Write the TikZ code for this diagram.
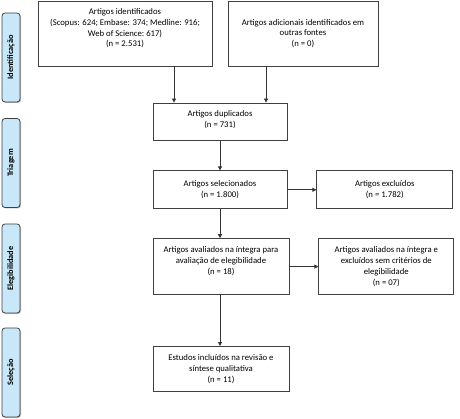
\documentclass[tikz,border=0pt]{standalone}
\usepackage{fontspec}
\setmainfont{Carlito}
\usepackage{xcolor}
\usetikzlibrary{arrows.meta,positioning,shadows}

\definecolor{faseazul}{RGB}{200,232,250}
\definecolor{borda}{RGB}{64,64,64}

\begin{document}
\begin{tikzpicture}[
    x=1pt, y=1pt,
    >={Triangle[length=4pt,width=4pt]},
    font=\fontsize{8.7}{10.8}\selectfont,
    caixa/.style={draw=borda, line width=0.8pt, fill=white, align=center,
                  inner sep=2pt, minimum width=#1},
    caixa/.default=134pt,
    fase/.style={draw=borda, line width=0.8pt, rounded corners=3pt, fill=faseazul,
                 minimum width=89pt, minimum height=18pt, rotate=90,
                 font=\fontsize{8.3}{9}\selectfont\bfseries, text=black,
                 drop shadow={shadow xshift=1pt, shadow yshift=-1pt, fill=black!45, opacity=0.6}},
    seta/.style={->, draw=black!80, line width=0.8pt},
  ]
    \useasboundingbox (0,0) rectangle (460,-419);

    % --- fases (lado esquerdo) ---
    \node[fase] (fid)  at (11,-57.5)  {Identificação};
    \node[fase] (ftr)  at (11,-163)   {Triagem};
    \node[fase] (fel)  at (11,-268.5) {Elegibilidade};
    \node[fase] (fsel) at (11,-372.5) {Seleção};

    % --- identificacao ---
    \node[caixa=174pt, minimum height=65pt] (ident) at (125,-33.5)
      {Artigos identificados\\
       (Scopus: 624; Embase: 374; Medline: 916;\\
       Web of Science:\ 617)\\
       (n = 2.531)\\[1pt]};
    \node[caixa=150pt, minimum height=65pt] (outras) at (303,-33.5)
      {Artigos adicionais identificados em\\
       outras fontes\\
       (n = 0)};

    % --- triagem ---
    \node[caixa, minimum height=37pt] (dup) at (220,-121.5)
      {Artigos duplicados\\(n = 731)\\[-6pt]};
    \node[caixa, minimum height=38pt, below=30pt of dup] (sel)
      {Artigos selecionados\\(n = 1.800)};
    \node[caixa=136pt, minimum height=38pt, right=29pt of sel] (excl)
      {Artigos excluídos\\(n = 1.782)};

    % --- elegibilidade ---
    \node[caixa=136pt, minimum height=56pt, below=29pt of sel.south west, anchor=north west] (aval)
      {Artigos avaliados na íntegra para\\
       avaliação de elegibilidade\\
       (n = 18)\\[1pt]};
    \node[caixa=135pt, minimum height=56pt, right=29pt of aval] (exclaval)
      {Artigos avaliados na íntegra e\\
       excluídos sem critérios de\\
       elegibilidade\\
       (n = 07)};

    % --- selecao ---
    \node[caixa=136pt, minimum height=45pt, below=51pt of aval] (incl)
      {Estudos incluídos na revisão e\\
       síntese qualitativa\\
       (n = 11)};

    % --- setas ---
    \draw[seta] ([xshift=-46pt]dup.north |- ident.south) -- ([xshift=-46pt]dup.north);
    \draw[seta] ([xshift=46pt]dup.north |- outras.south) -- ([xshift=46pt]dup.north);
    \draw[seta] (dup) -- (sel);
    \draw[seta] (sel) -- (excl);
    \draw[seta] (sel.south) -- (sel.south |- aval.north);
    \draw[seta] (aval) -- (exclaval);
    \draw[seta] (sel.south |- aval.south) -- (sel.south |- incl.north);
\end{tikzpicture}
\end{document}
